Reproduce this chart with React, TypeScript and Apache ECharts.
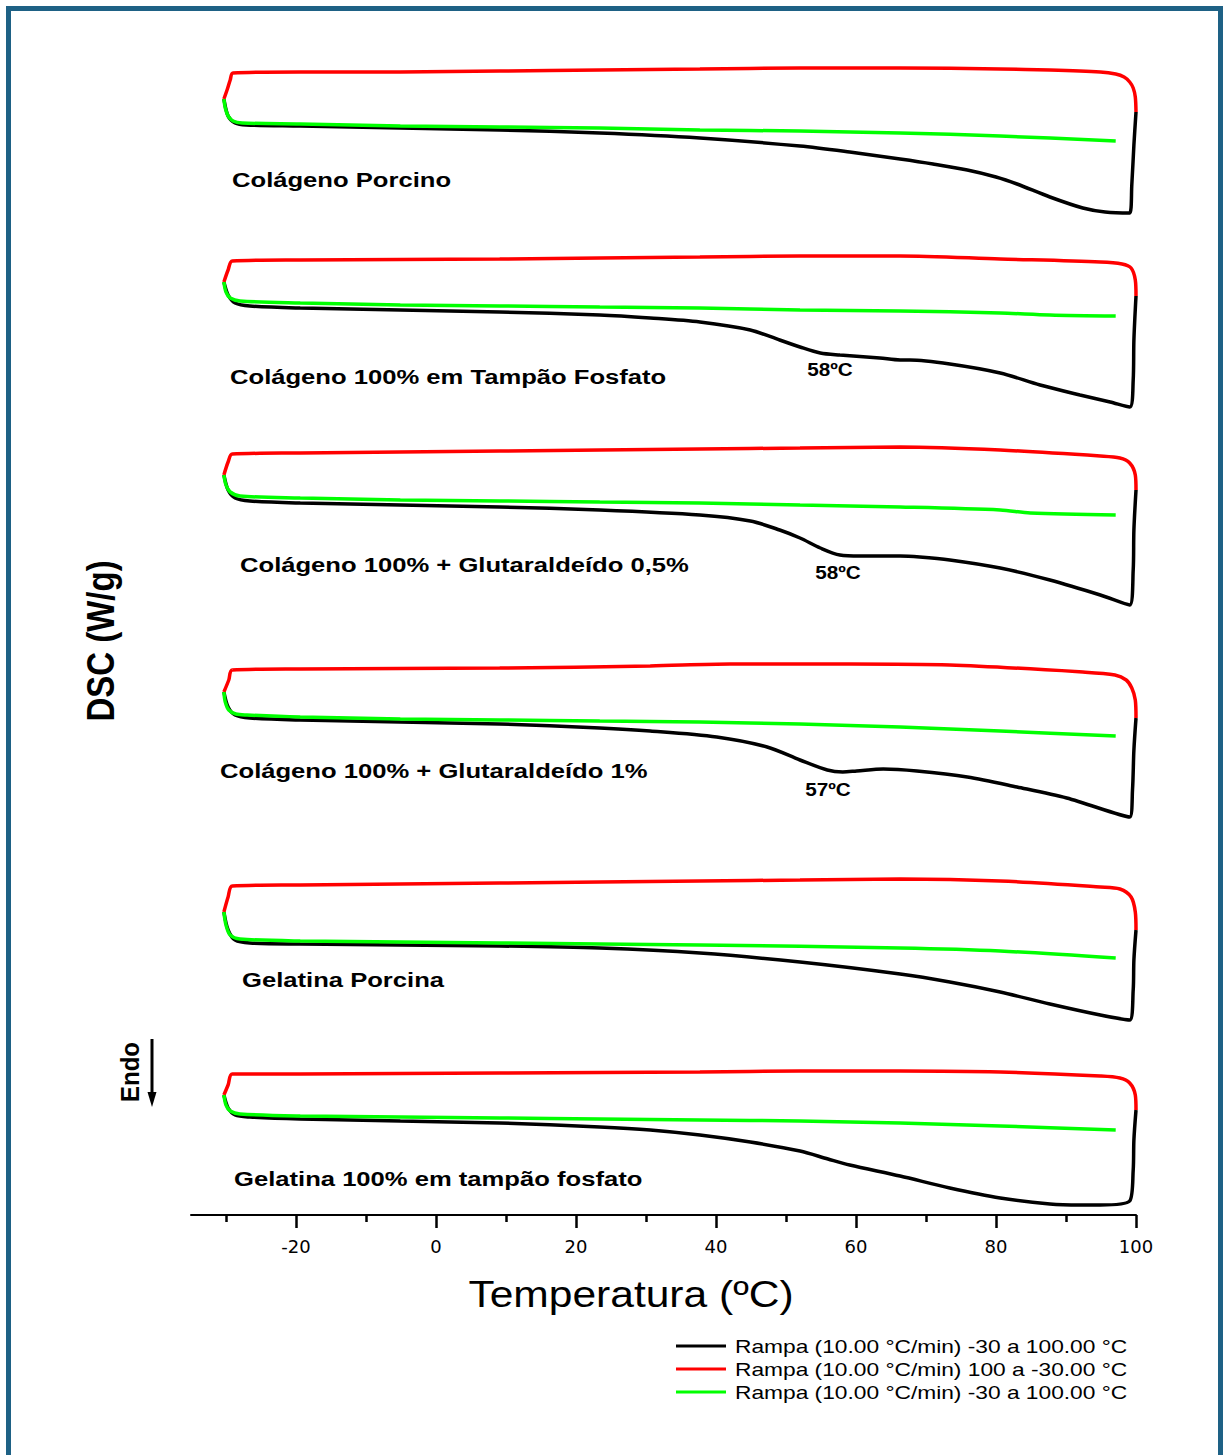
import React, { useEffect, useRef } from "react";
import * as echarts from "echarts";

// Temperature axis
const xMin = -35;
const xMax = 100;
const labelTicks = [-20, 0, 20, 40, 60, 80, 100];
const majorTicks = [-20, 0, 20, 40, 60, 80, 100];
const minorTicks = [-30, -10, 10, 30, 50, 70, 90];

// Legend texts
const legendBlack = "Rampa (10.00 °C/min) -30 a 100.00 °C";
const legendRed = "Rampa (10.00 °C/min) 100 a -30.00 °C";
const legendGreen = "Rampa (10.00 °C/min) -30 a 100.00 °C";

const panelNames = [
  "Colágeno Porcino",
  "Colágeno 100% em Tampão Fosfato",
  "Colágeno 100% + Glutaraldeído 0,5%",
  "Colágeno 100% + Glutaraldeído 1%",
  "Gelatina Porcina",
  "Gelatina 100% em tampão fosfato",
];
const peakLabels = ["58ºC", "58ºC", "57ºC"];

// Panel 1: Colágeno Porcino  [T (°C), DSC (W/g, offset)]
const p1Red = [[100, 11.03], [99.9, 11.18], [99.6, 11.27], [99.1, 11.33], [98.3, 11.38], [97.1, 11.41], [94.9, 11.43], [87.7, 11.45], [80.6, 11.46], [66.3, 11.47], [52, 11.47], [37.7, 11.46], [23.4, 11.45], [9.1, 11.44], [-5.1, 11.43], [-19.4, 11.43], [-29.0, 11.42], [-29.4, 11.35], [-29.8, 11.26], [-30.3, 11.16]];
const p1Green = [[-30.3, 11.16], [-30.1, 11.07], [-29.7, 10.99], [-29, 10.94], [-27.7, 10.92], [-19.4, 10.91], [-5.1, 10.89], [9.1, 10.88], [23.4, 10.87], [37.7, 10.85], [52, 10.84], [66.3, 10.82], [80.6, 10.79], [97.1, 10.74]];
const p1Black = [[-30.3, 11.16], [-29.7, 10.99], [-28.7, 10.92], [-27.1, 10.9], [-19.4, 10.89], [-5.1, 10.87], [9.1, 10.85], [23.4, 10.82], [37.7, 10.77], [52, 10.69], [59.1, 10.63], [66.3, 10.56], [71, 10.51], [75.9, 10.45], [80, 10.38], [83, 10.31], [87.7, 10.18], [92.4, 10.07], [95.6, 10.03], [99.1, 10.02], [99.4, 10.3], [99.7, 10.7], [100, 11.03]];

// Panel 2: Colágeno 100% em Tampão Fosfato
const p2Red = [[100, 9.19], [99.9, 9.35], [99.3, 9.47], [98, 9.51], [94.9, 9.53], [80.6, 9.56], [66.3, 9.59], [52, 9.59], [37.7, 9.58], [9.1, 9.56], [-19.4, 9.55], [-29.1, 9.54], [-29.7, 9.45], [-30.3, 9.33]];
const p2Green = [[-30.3, 9.33], [-30, 9.23], [-29.4, 9.17], [-28, 9.14], [-19.4, 9.12], [-5.1, 9.1], [9.1, 9.09], [23.4, 9.08], [37.7, 9.07], [52, 9.05], [66.3, 9.04], [80.6, 9.02], [87.7, 9.0], [97.1, 8.99]];
const p2Black = [[-30.3, 9.33], [-29.7, 9.2], [-28.7, 9.12], [-26.6, 9.09], [-19.4, 9.07], [-5.1, 9.05], [9.1, 9.03], [23.4, 9.0], [30.6, 8.97], [37.7, 8.93], [44.9, 8.85], [49.1, 8.75], [52, 8.68], [54.9, 8.62], [57.7, 8.6], [63.4, 8.57], [66.3, 8.55], [67.7, 8.55], [73.4, 8.51], [80.6, 8.42], [86.3, 8.3], [92, 8.2], [96.3, 8.13], [99.1, 8.08], [99.6, 8.35], [99.7, 8.75], [100, 9.19]];

// Panel 3: Colágeno 100% + Glutaraldeído 0,5%
const p3Red = [[100, 7.25], [99.9, 7.4], [99.1, 7.52], [97.7, 7.57], [94.9, 7.59], [80.6, 7.65], [66.3, 7.68], [52, 7.67], [37.7, 7.66], [9.1, 7.64], [-19.4, 7.62], [-29.1, 7.61], [-29.7, 7.53], [-30.3, 7.4]];
const p3Green = [[-30.3, 7.4], [-30, 7.3], [-29.4, 7.23], [-28, 7.19], [-19.4, 7.17], [-5.1, 7.15], [9.1, 7.14], [23.4, 7.13], [37.7, 7.12], [52, 7.1], [66.3, 7.08], [80.6, 7.05], [84.9, 7.02], [97.1, 7.0]];
const p3Black = [[-30.3, 7.4], [-29.7, 7.25], [-28.7, 7.17], [-26.6, 7.14], [-19.4, 7.12], [-5.1, 7.1], [9.1, 7.08], [23.4, 7.05], [37.7, 7.0], [44.9, 6.94], [49.1, 6.85], [52, 6.77], [54.9, 6.67], [57.7, 6.6], [60.6, 6.59], [66.3, 6.59], [69.1, 6.58], [73.4, 6.55], [80.6, 6.47], [87.7, 6.35], [94.9, 6.2], [99.1, 6.1], [99.6, 6.45], [99.7, 6.85], [100, 7.25]];

// Panel 4: Colágeno 100% + Glutaraldeído 1%
const p4Red = [[100, 4.97], [99.9, 5.15], [99.4, 5.27], [98.6, 5.35], [97, 5.4], [92.4, 5.43], [73.4, 5.5], [59.1, 5.51], [42, 5.51], [30.6, 5.49], [9.1, 5.47], [-19.4, 5.46], [-29.1, 5.45], [-29.6, 5.35], [-30.3, 5.23]];
const p4Green = [[-30.3, 5.23], [-30.1, 5.13], [-29.6, 5.05], [-28.6, 5.01], [-27, 5.0], [-19.4, 4.98], [-5.1, 4.96], [9.1, 4.95], [23.4, 4.94], [37.7, 4.93], [52, 4.91], [66.3, 4.88], [80.6, 4.84], [97.1, 4.79]];
const p4Black = [[-30.3, 5.23], [-29.7, 5.08], [-28.7, 5.0], [-26.6, 4.97], [-19.4, 4.95], [-5.1, 4.93], [9.1, 4.91], [23.4, 4.87], [30.6, 4.84], [40.1, 4.78], [47.3, 4.68], [52, 4.55], [55.9, 4.45], [58.1, 4.43], [60.1, 4.44], [63.9, 4.46], [68.7, 4.44], [75.9, 4.38], [83, 4.28], [90.1, 4.17], [99.1, 3.98], [99.5, 4.25], [99.7, 4.65], [100, 4.97]];

// Panel 5: Gelatina Porcina
const p5Red = [[100, 2.85], [99.9, 3.03], [99.3, 3.18], [97.7, 3.26], [94.9, 3.28], [80.6, 3.34], [66.3, 3.36], [52, 3.35], [37.7, 3.34], [9.1, 3.32], [-19.4, 3.3], [-29.1, 3.29], [-29.7, 3.18], [-30.3, 3.03]];
const p5Green = [[-30.3, 3.03], [-30, 2.9], [-29.4, 2.8], [-28, 2.76], [-19.4, 2.74], [9.1, 2.72], [37.7, 2.7], [66.3, 2.67], [80.6, 2.64], [97.1, 2.57]];
const p5Black = [[-30.3, 3.03], [-29.7, 2.85], [-28.7, 2.75], [-26.6, 2.72], [-19.4, 2.71], [9.1, 2.69], [23.4, 2.67], [37.7, 2.62], [52, 2.53], [66.3, 2.41], [73.4, 2.33], [80.6, 2.23], [87.7, 2.11], [94.9, 2.0], [99.1, 1.95], [99.6, 2.25], [99.7, 2.55], [100, 2.85]];

// Panel 6: Gelatina 100% em tampão fosfato
const p6Red = [[100, 1.05], [99.9, 1.2], [99.1, 1.32], [97.7, 1.37], [94.9, 1.39], [80.6, 1.43], [66.3, 1.44], [52, 1.44], [37.7, 1.43], [9.1, 1.42], [-19.4, 1.41], [-29.1, 1.41], [-29.7, 1.3], [-30.3, 1.2]];
const p6Green = [[-30.3, 1.2], [-30, 1.1], [-29.4, 1.04], [-28, 1.01], [-19.4, 0.99], [-5.1, 0.98], [9.1, 0.97], [23.4, 0.96], [37.7, 0.95], [52, 0.94], [66.3, 0.92], [80.6, 0.89], [97.1, 0.85]];
const p6Black = [[-30.3, 1.2], [-29.7, 1.07], [-28.7, 1.0], [-26.6, 0.98], [-19.4, 0.96], [-5.1, 0.94], [9.1, 0.92], [23.4, 0.88], [30.6, 0.85], [37.7, 0.8], [44.9, 0.73], [52, 0.64], [56, 0.56], [59.1, 0.5], [66.3, 0.39], [73.4, 0.27], [80.6, 0.17], [87.7, 0.11], [92, 0.1], [94.9, 0.1], [99.1, 0.14], [99.6, 0.45], [99.7, 0.75], [100, 1.05]];

const panels = [
  { black: p1Black, red: p1Red, green: p1Green },
  { black: p2Black, red: p2Red, green: p2Green },
  { black: p3Black, red: p3Red, green: p3Green },
  { black: p4Black, red: p4Red, green: p4Green },
  { black: p5Black, red: p5Red, green: p5Green },
  { black: p6Black, red: p6Red, green: p6Green },
];

const BLACK = "#000000";
const RED = "#ff0000";
const GREEN = "#00ff00";

export default function App() {
  const ref = useRef<HTMLDivElement>(null);

  useEffect(() => {
    document.body.style.margin = "0";
    if (!ref.current) return;
    const chart = echarts.init(ref.current, undefined, { renderer: "svg" });

    const series: any[] = [];
    panels.forEach((p) => {
      series.push({
        type: "line", name: legendBlack, data: p.black, symbol: "none", smooth: 0.3, clip: false,
        lineStyle: { color: BLACK, width: 3.5 }, z: 2,
      });
      series.push({
        type: "line", name: legendRed, data: p.red, symbol: "none", smooth: 0.3, clip: false,
        lineStyle: { color: RED, width: 3.5 }, z: 3,
      });
      series.push({
        type: "line", name: legendGreen, data: p.green, symbol: "none", smooth: 0.3, clip: false,
        lineStyle: { color: GREEN, width: 3.5 }, z: 4,
      });
    });

    const txt = (text: string, x: number, y: number, size: number, opts: any = {}) => ({
      type: "text",
      x,
      y,
      scaleX: opts.scaleX ?? 1,
      scaleY: opts.scaleY ?? 1,
      rotation: opts.rotation ?? 0,
      z: 100,
      style: {
        text,
        x: 0,
        y: 0,
        fontFamily: '"Liberation Sans", Arial, sans-serif',
        fontSize: size,
        fontWeight: opts.bold ? "bold" : "normal",
        fill: "#000",
        textAlign: opts.align ?? "left",
        textVerticalAlign: "middle",
        align: opts.align ?? "left",
        verticalAlign: "middle",
      },
    });

    const panelPos = [
      [232, 180], [230, 377], [240, 565], [220, 771], [242, 980], [234, 1179],
    ];
    const peakPos = [[830, 370], [838, 573], [828, 790]];

    const graphic: any[] = [
      {
        type: "rect",
        shape: { x: 8.5, y: 8.5, width: 1212, height: 1480 },
        style: { fill: "none", stroke: "#1e6185", lineWidth: 5 },
        z: 0,
      },
    ];
    panelNames.forEach((n, i) => {
      graphic.push(txt(n, panelPos[i][0], panelPos[i][1], 21, { bold: true, scaleX: 1.22 }));
    });
    peakLabels.forEach((n, i) => {
      graphic.push(txt(n, peakPos[i][0], peakPos[i][1], 18, { bold: true, scaleX: 1.15, align: "center" }));
    });
    graphic.push(txt("Temperatura (ºC)", 631, 1294, 37, { scaleX: 1.15, align: "center" }));
    graphic.push(txt("DSC (W/g)", 100, 641, 33, { bold: true, rotation: Math.PI / 2, scaleY: 1.2, align: "center" }));
    graphic.push(txt("Endo", 130, 1072, 24, { bold: true, rotation: Math.PI / 2, scaleY: 1.1, align: "center" }));
    graphic.push({
      type: "line",
      shape: { x1: 152, y1: 1039, x2: 152, y2: 1096 },
      style: { stroke: "#000", lineWidth: 3 },
    });
    graphic.push({
      type: "polygon",
      shape: { points: [[147.5, 1092], [156.5, 1092], [152, 1107]] },
      style: { fill: "#000" },
    });

    const legendItems = [
      { text: legendBlack, color: BLACK, y: 1346 },
      { text: legendRed, color: RED, y: 1369 },
      { text: legendGreen, color: GREEN, y: 1392 },
    ];
    legendItems.forEach((it) => {
      graphic.push({
        type: "line",
        shape: { x1: 676, y1: it.y, x2: 726, y2: it.y },
        style: { stroke: it.color, lineWidth: 3 },
      });
      graphic.push(txt(it.text, 735, it.y, 18.5, { scaleX: 1.23 }));
    });

    chart.setOption({
      animation: false,
      backgroundColor: "#ffffff",
      grid: { left: 191, right: 88, top: 0, bottom: 240 },
      xAxis: [
        {
          type: "value",
          min: xMin,
          max: xMax,
          position: "bottom",
          axisLine: { show: true, onZero: false, lineStyle: { color: "#000", width: 2 } },
          axisTick: { show: true, customValues: majorTicks, length: 13, lineStyle: { color: "#000", width: 2.5 } },
          axisLabel: {
            show: true,
            customValues: labelTicks,
            margin: 22,
            fontFamily: '"DejaVu Sans", sans-serif',
            fontSize: 18,
            color: "#000",
          },
          splitLine: { show: false },
        },
        {
          type: "value",
          min: xMin,
          max: xMax,
          position: "bottom",
          offset: 0,
          axisLine: { show: false, onZero: false },
          axisTick: { show: true, customValues: minorTicks, length: 7, lineStyle: { color: "#000", width: 2.5 } },
          axisLabel: { show: false },
          splitLine: { show: false },
        },
      ],
      yAxis: { type: "value", min: 0, max: 12.15, show: false },
      series,
      graphic,
    });

    return () => chart.dispose();
  }, []);

  return <div ref={ref} style={{ width: 1224, height: 1455 }} />;
}
